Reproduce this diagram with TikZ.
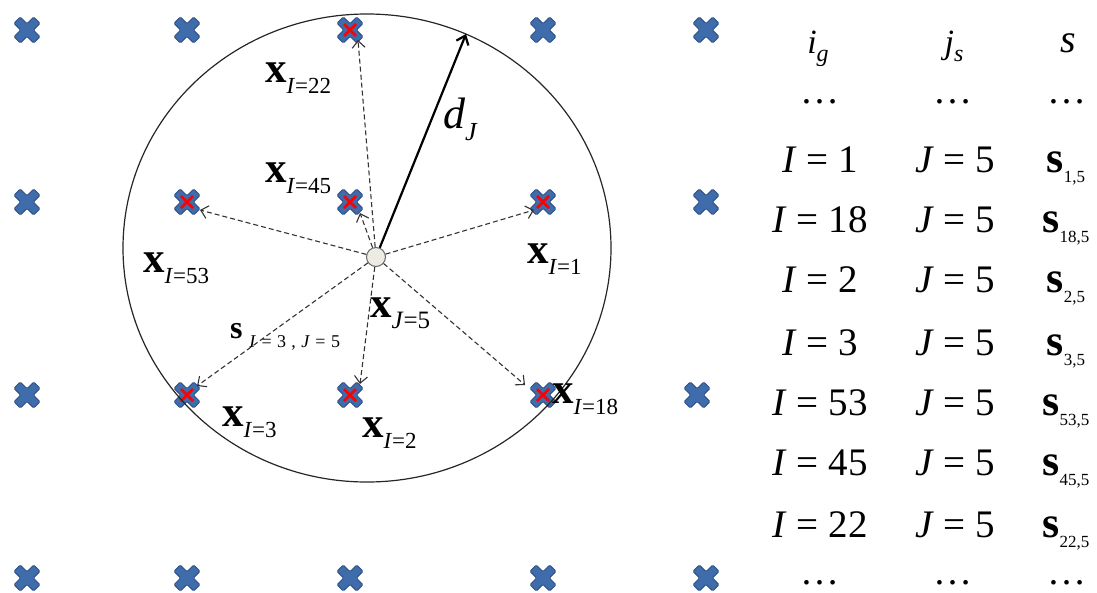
\documentclass[tikz,border=0pt]{standalone}
\usepackage{fontspec}
\setmainfont{Liberation Serif}
\usetikzlibrary{arrows.meta}
\definecolor{crossfill}{RGB}{63,108,170}
\definecolor{crossdraw}{RGB}{45,80,135}
\definecolor{centerfill}{RGB}{236,236,226}
\newcommand\bigx{{\fontsize{43}{43}\selectfont\bfseries x}}
\newcommand\subs[3][11pt]{\raisebox{-#1}{\fontsize{#2}{#2}\selectfont #3}}
\newcommand\vI{\textit{I}}
\newcommand\vJ{\textit{J}}
\newcommand\tabfont{\fontsize{39}{39}\selectfont}
\newcommand\bolds[1]{{\fontsize{44}{44}\selectfont\bfseries s}\subs[10pt]{17}{#1}}
\tikzset{
  bluecross/.pic={
    \filldraw[fill=crossfill,draw=crossdraw,line width=0.9pt,rounded corners=1.2pt,rotate=45]
      (4.5,14)--(4.5,4.5)--(14,4.5)--(14,-4.5)--(4.5,-4.5)--(4.5,-14)--(-4.5,-14)--(-4.5,-4.5)--(-14,-4.5)--(-14,4.5)--(-4.5,4.5)--(-4.5,14)--cycle;
  },
  redcross/.pic={
    \draw[red,line width=2.8pt] (-6,-6)--(6,6) (-6,6)--(6,-6);
  },
  lbl/.style={anchor=base west,inner sep=0pt,outer sep=0pt},
  tab/.style={anchor=base,inner sep=0pt,outer sep=0pt,font=\tabfont},
  dasharrow/.style={draw=black!80,line width=1.1pt,dash pattern=on 5pt off 3pt,
    -{Straight Barb[length=7pt,width=13pt]}},
}
\begin{document}
\begin{tikzpicture}[x=1pt,y=-1pt]
\useasboundingbox (0,0) rectangle (1097,592);
% grid
\foreach \gx in {27,187,350,543,706}{
  \foreach \gy in {30,202,578}{
    \pic at (\gx,\gy) {bluecross};
  }
}
\foreach \gx in {27,187,350,543}{ \pic at (\gx,395) {bluecross}; }
\pic at (697,395) {bluecross};
% red crosses
\foreach \rx/\ry in {350/30,350/202,187/202,543/202,187/395,350/395,543/395}{
  \pic at (\rx,\ry) {redcross};
}
% circle
\draw[line width=1.2pt,black!85] (367,248) ellipse [x radius=244pt,y radius=234pt];
% center node
\node[circle,minimum size=19pt,inner sep=0pt,fill=centerfill,draw=black!60,line width=1pt] (c) at (376,257) {};
% arrow end points
\coordinate (t22) at (358,40);
\coordinate (t45) at (360,213);
\coordinate (t53) at (200,210);
\coordinate (t1) at (534,210);
\coordinate (t18) at (525,385);
\coordinate (t2) at (360,384);
\coordinate (t3) at (197,386);
\coordinate (td) at (466,34);
\foreach \t in {t22,t45,t53,t1,t18,t2,t3}{
  \draw[dasharrow] (c) -- (\t);
}
\draw[line width=2.2pt,-{Straight Barb[length=8pt,width=13pt]}] (c) -- (td);
% labels
\node[lbl] (l22) at (265,82) {\bigx\subs{23}{\vI=22}};
\node[lbl] (l45) at (265,182) {\bigx\subs{23}{\vI=45}};
\node[lbl] (l53) at (143,272) {\bigx\subs{23}{\vI=53}};
\node[lbl] (l1) at (527,263) {\bigx\subs{23}{\vI=1}};
\node[lbl] (lJ) at (370,317) {\bigx\subs{25}{\vJ=5}};
\node[lbl] (ls) at (230,338) {{\fontsize{32}{32}\selectfont\bfseries s}\hspace{7pt}\subs[9pt]{18}{\vI\hspace{0.3em}=\hspace{0.3em}3\hspace{0.3em},\hspace{0.3em}\vJ\hspace{0.3em}=\hspace{0.3em}5}};
\node[lbl] (l3) at (222,426) {\bigx\subs{23}{\vI=3}};
\node[lbl] (l2) at (362,437) {\bigx\subs{23}{\vI=2}};
\node[lbl] (l18) at (552,403) {\bigx\subs{23}{\vI=18}};
\node[lbl] (ld) at (443,128) {{\fontsize{44}{44}\selectfont\itshape d}\subs[12pt]{26}{\vJ}};
% table header
\node[tab] (h1) at (818,53) {{\fontsize{34}{34}\selectfont\itshape i}\subs[8pt]{24}{\textit{g}}};
\node[tab] (h2) at (954,53) {{\fontsize{34}{34}\selectfont\itshape j}\subs[8pt]{24}{\textit{s}}};
\node[tab] (h3) at (1068,52) {{\fontsize{40}{40}\selectfont\itshape s}};
% dots
\node[tab] (d11) at (820,103) {…};
\node[tab] (d12) at (953,103) {…};
\node[tab] (d13) at (1067,103) {…};
\node[tab] (d21) at (820,584) {…};
\node[tab] (d22) at (953,584) {…};
\node[tab] (d23) at (1067,584) {…};
% rows
\foreach \i/\yy/\n in {1/172/r1,18/232/r2,2/292/r3,3/355/r4,53/415/r5,45/475/r6,22/537/r7}{
  \node[tab] (\n a) at (820,\yy) {\vI\ =\ \i};
  \node[tab] (\n b) at (955,\yy) {\vJ\ =\ 5};
  \node[tab] (\n c) at (1066,\yy) {\bolds{\i,5}};
}
\end{tikzpicture}
\end{document}
